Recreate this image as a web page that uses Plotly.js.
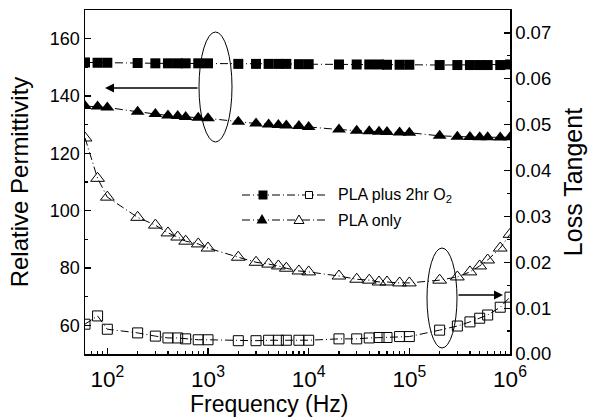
<!DOCTYPE html>
<html>
<head>
<meta charset="utf-8">
<script src="https://cdn.plot.ly/plotly-3.0.1.min.js"></script>
<style>html,body{margin:0;padding:0;background:#fff;}#chart{width:600px;height:420px;}</style>
</head>
<body>
<div id="chart"></div>
<script>
// Frequencies (Hz)
const freq = [60, 80, 100, 200, 300, 400, 500, 600, 800, 1000,
  2000, 3000, 4000, 5000, 6000, 8000, 10000,
  20000, 30000, 40000, 50000, 60000, 80000, 100000,
  200000, 300000, 400000, 500000, 600000, 800000, 1000000];

// Relative permittivity (left axis)
const permO2 = [151.7, 151.6, 151.6, 151.5, 151.4, 151.4, 151.4, 151.4, 151.4, 151.4,
  151.2, 151.2, 151.2, 151.2, 151.2, 151.1, 151.1,
  151.0, 151.0, 151.0, 151.0, 150.9, 150.9, 150.9,
  150.8, 150.8, 150.8, 150.8, 150.8, 150.8, 151.0];
const permPLA = [136.5, 136.3, 136.0, 134.5, 133.7, 133.2, 133.0, 132.7, 132.4, 132.2,
  131.0, 130.4, 130.1, 129.9, 129.7, 129.5, 129.2,
  128.3, 127.9, 127.7, 127.5, 127.4, 127.3, 127.2,
  126.1, 125.8, 125.7, 125.6, 125.6, 125.5, 125.6];

// Loss tangent (right axis)
const lossO2 = [0.0065, 0.0083, 0.0054, 0.0046, 0.0039, 0.0035, 0.0035, 0.0033, 0.0031, 0.0031,
  0.0029, 0.0029, 0.0030, 0.0030, 0.0030, 0.0030, 0.0030,
  0.0033, 0.0033, 0.0035, 0.0036, 0.0036, 0.0038, 0.0038,
  0.0052, 0.0061, 0.0070, 0.0078, 0.0085, 0.0102, 0.0124];
const lossPLA = [0.0471, 0.0383, 0.0342, 0.0298, 0.0281, 0.0264, 0.0255, 0.0246, 0.0240, 0.0231,
  0.0211, 0.0200, 0.0196, 0.0192, 0.0187, 0.0181, 0.0179,
  0.0170, 0.0163, 0.0161, 0.0157, 0.0157, 0.0155, 0.0155,
  0.0161, 0.0168, 0.0179, 0.0192, 0.0205, 0.0231, 0.0261];

const legendLabels = ['PLA plus 2hr O<sub>2</sub>', 'PLA only'];
const xTitle = 'Frequency (Hz)';
const yTitle = 'Relative Permittivity';
const y2Title = 'Loss Tangent';

const FONT = 'Liberation Sans, Arial, Helvetica, sans-serif';
const lineStyle = {color: '#000', width: 1, dash: '8px,3px,1px,3px'};

const traces = [
  {x: freq, y: permO2, yaxis: 'y', mode: 'lines+markers', line: lineStyle,
   marker: {symbol: 'square', size: 10, color: '#000'}},
  {x: freq, y: permPLA, yaxis: 'y', mode: 'lines+markers', line: lineStyle,
   marker: {symbol: 'triangle-up', size: 12, color: '#000'}},
  {x: freq, y: lossO2, yaxis: 'y2', mode: 'lines+markers', line: lineStyle,
   marker: {symbol: 'square-open', size: 10, color: '#000', line: {width: 1}}},
  {x: freq, y: lossPLA, yaxis: 'y2', mode: 'lines+markers', line: lineStyle,
   marker: {symbol: 'triangle-up-open', size: 12, color: '#000', line: {width: 1}}}
];

// plot area in px: left 85, right 510, top 10, bottom 354
const px = v => (v - 85) / 425;
const py = v => (354 - v) / 344;

const row1 = py(195), row2 = py(220);
const shapes = [
  // ellipses
  {type: 'circle', xref: 'paper', yref: 'paper', x0: px(199), x1: px(232), y0: py(142), y1: py(32),
   line: {color: '#000', width: 1}},
  {type: 'circle', xref: 'paper', yref: 'paper', x0: px(427), x1: px(457), y0: py(348), y1: py(248),
   line: {color: '#000', width: 1}},
  // legend lines
  {type: 'line', xref: 'paper', yref: 'paper', x0: px(242), x1: px(327), y0: row1, y1: row1,
   line: {color: '#000', width: 1, dash: '8px,3px,1px,3px'}},
  {type: 'line', xref: 'paper', yref: 'paper', x0: px(242), x1: px(327), y0: row2, y1: row2,
   line: {color: '#000', width: 1, dash: '8px,3px,1px,3px'}},
  // legend glyphs
  {type: 'rect', xref: 'paper', yref: 'paper', xsizemode: 'pixel', ysizemode: 'pixel',
   xanchor: px(263), yanchor: row1, x0: -4.5, x1: 4.5, y0: -4.5, y1: 4.5,
   fillcolor: '#000', line: {width: 0}},
  {type: 'rect', xref: 'paper', yref: 'paper', xsizemode: 'pixel', ysizemode: 'pixel',
   xanchor: px(309), yanchor: row1, x0: -3.5, x1: 3.5, y0: -3.5, y1: 3.5,
   fillcolor: '#fff', line: {color: '#000', width: 1}},
  {type: 'path', xref: 'paper', yref: 'paper', xsizemode: 'pixel', ysizemode: 'pixel',
   xanchor: px(262), yanchor: row2, path: 'M-5.5,-3.5L5.5,-3.5L0,6Z',
   fillcolor: '#000', line: {width: 0}},
  {type: 'path', xref: 'paper', yref: 'paper', xsizemode: 'pixel', ysizemode: 'pixel',
   xanchor: px(299), yanchor: row2, path: 'M-5,-3.5L5,-3.5L0,5Z',
   fillcolor: '#fff', line: {color: '#000', width: 1}}
];

const annotations = [
  {xref: 'paper', yref: 'paper', x: px(105), y: py(88), ax: 94, ay: 0, text: '',
   showarrow: true, arrowhead: 2, arrowsize: 1.2, arrowwidth: 1.5, arrowcolor: '#000'},
  {xref: 'paper', yref: 'paper', x: px(503), y: py(295), ax: -46, ay: 0, text: '',
   showarrow: true, arrowhead: 2, arrowsize: 1.2, arrowwidth: 1.5, arrowcolor: '#000'},
  {xref: 'paper', yref: 'paper', x: px(336), y: row1, xanchor: 'left', yanchor: 'middle',
   text: legendLabels[0], showarrow: false, font: {family: FONT, size: 16, color: '#000'}},
  {xref: 'paper', yref: 'paper', x: px(336), y: row2, xanchor: 'left', yanchor: 'middle',
   text: legendLabels[1], showarrow: false, font: {family: FONT, size: 16, color: '#000'}},
  {xref: 'paper', yref: 'paper', x: px(269), y: py(404), xanchor: 'center', yanchor: 'middle',
   text: xTitle, showarrow: false, font: {family: FONT, size: 23, color: '#000'}}
];

const layout = {
  width: 600, height: 420,
  margin: {l: 85, r: 90, t: 10, b: 66},
  paper_bgcolor: '#fff', plot_bgcolor: '#fff',
  showlegend: false,
  font: {family: FONT, size: 18, color: '#000'},
  xaxis: {
    type: 'log', range: [Math.log10(60), 6],
    dtick: 1, exponentformat: 'power', showexponent: 'all',
    ticks: 'inside', ticklen: 6, tickwidth: 1.2, tickcolor: '#000',
    ticklabelstandoff: 5,
    minor: {ticks: 'inside', ticklen: 3, dtick: 'D1', tickcolor: '#000'},
    showline: true, linecolor: '#000', linewidth: 1.5, mirror: true,
    showgrid: false, zeroline: false,
    tickfont: {size: 18}
  },
  yaxis: {
    range: [50, 170], dtick: 20, tick0: 0,
    ticks: 'inside', ticklen: 6, tickwidth: 1.2, tickcolor: '#000',
    minor: {ticks: 'inside', ticklen: 3, dtick: 10, tickcolor: '#000'},
    showline: true, linecolor: '#000', linewidth: 1.5,
    showgrid: false, zeroline: false,
    tickfont: {size: 18},
    title: {text: yTitle, font: {size: 24}, standoff: 14}
  },
  yaxis2: {
    overlaying: 'y', side: 'right', range: [0, 0.075], dtick: 0.01,
    tickformat: '.2f',
    ticks: 'inside', ticklen: 6, tickwidth: 1.2, tickcolor: '#000',
    minor: {ticks: 'inside', ticklen: 3, dtick: 0.005, tickcolor: '#000'},
    showline: true, linecolor: '#000', linewidth: 1.5,
    showgrid: false, zeroline: false,
    tickfont: {size: 18.5},
    title: {text: y2Title, font: {size: 25}, standoff: 14}
  },
  shapes: shapes,
  annotations: annotations
};

Plotly.newPlot('chart', traces, layout, {staticPlot: true, displayModeBar: false});
</script>
</body>
</html>
